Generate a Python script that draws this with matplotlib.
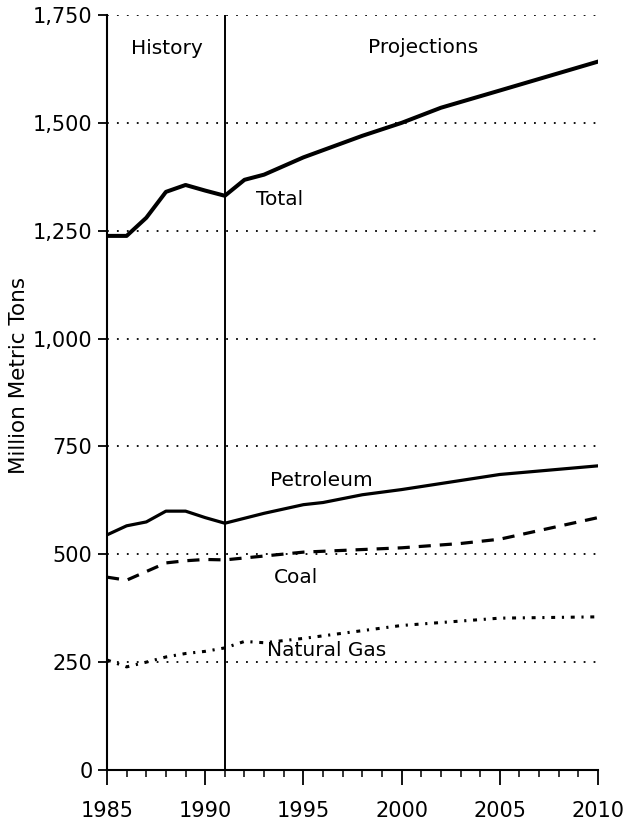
import matplotlib
matplotlib.use("Agg")
import matplotlib.pyplot as plt
from matplotlib.ticker import FuncFormatter, MultipleLocator

plt.rcParams['font.family'] = ['DejaVu Sans']

years_total = [1985, 1986, 1987, 1988, 1989, 1990, 1991, 1992, 1993, 1995, 1998, 2000, 2002, 2005, 2010]
total = [1238, 1238, 1280, 1340, 1356, 1343, 1331, 1368, 1380, 1420, 1470, 1500, 1535, 1575, 1642]

years_pet = [1985, 1986, 1987, 1988, 1989, 1990, 1991, 1993, 1995, 1996, 1998, 2000, 2005, 2010]
petroleum = [545, 566, 575, 600, 600, 585, 572, 595, 615, 620, 638, 650, 685, 705]

years_coal = [1985, 1986, 1987, 1988, 1989, 1990, 1991, 1995, 2000, 2003, 2005, 2007, 2010]
coal = [447, 440, 460, 480, 485, 488, 487, 505, 515, 525, 535, 555, 585]

years_gas = [1985, 1986, 1987, 1988, 1989, 1990, 1991, 1992, 1993, 1995, 2000, 2005, 2010]
gas = [255, 239, 250, 262, 270, 275, 283, 298, 295, 305, 335, 352, 355]

yticks = [0, 250, 500, 750, 1000, 1250, 1500, 1750]
xticks = [1985, 1990, 1995, 2000, 2005, 2010]

W, H = 626, 822
fig = plt.figure(figsize=(W / 100, H / 100), dpi=100)
ax = fig.add_axes([107 / W, 1 - 770 / H, 491 / W, 755 / H])

for y in yticks[1:]:
    ax.axhline(y, color='black', linestyle=(0, (1, 4.5)), linewidth=1.3, zorder=1)

ax.axvline(1991, color='black', linewidth=1.4, zorder=2)

ax.plot(years_total, total, color='black', linewidth=2.9, solid_joinstyle='round', zorder=3)
ax.plot(years_pet, petroleum, color='black', linewidth=2.3, solid_joinstyle='round', zorder=3)
ax.plot(years_coal, coal, color='black', linewidth=2.3, linestyle=(0, (3.8, 2.8)), zorder=3)
ax.plot(years_gas, gas, color='black', linewidth=2.2, linestyle=(0, (1.3, 2.2, 0.7, 2.2)), zorder=3)

ax.set_xlim(1985, 2010)
ax.set_ylim(0, 1750)
ax.set_xticks(xticks)
ax.xaxis.set_minor_locator(MultipleLocator(1))
ax.set_yticks(yticks)
ax.yaxis.set_major_formatter(FuncFormatter(lambda v, p: f"{int(v):,}"))

for s in ['top', 'right']:
    ax.spines[s].set_visible(False)
ax.spines['left'].set_linewidth(1.5)
ax.spines['bottom'].set_linewidth(1.5)

ax.tick_params(axis='y', direction='out', length=6.5, width=1.3, labelsize=15, pad=4)
ax.tick_params(axis='x', which='major', direction='out', length=11, width=1.3, labelsize=15, pad=11)
ax.tick_params(axis='x', which='minor', direction='out', length=5, width=1.1)

fig.text(19 / W, 1 - 375 / H, "Million Metric Tons", rotation=90, fontsize=15.5,
         ha='center', va='center')

ax.text(1988.05, 1673, "History", fontsize=14.5, ha='center', va='center')
ax.text(2001.1, 1675, "Projections", fontsize=14.5, ha='center', va='center')
ax.text(1993.8, 1323, "Total", fontsize=14.5, ha='center', va='center')
ax.text(1995.9, 672, "Petroleum", fontsize=14.5, ha='center', va='center')
ax.text(1994.6, 447, "Coal", fontsize=14.5, ha='center', va='center')
ax.text(1996.2, 277, "Natural Gas", fontsize=14.5, ha='center', va='center')

fig.savefig("out.png", dpi=100)
